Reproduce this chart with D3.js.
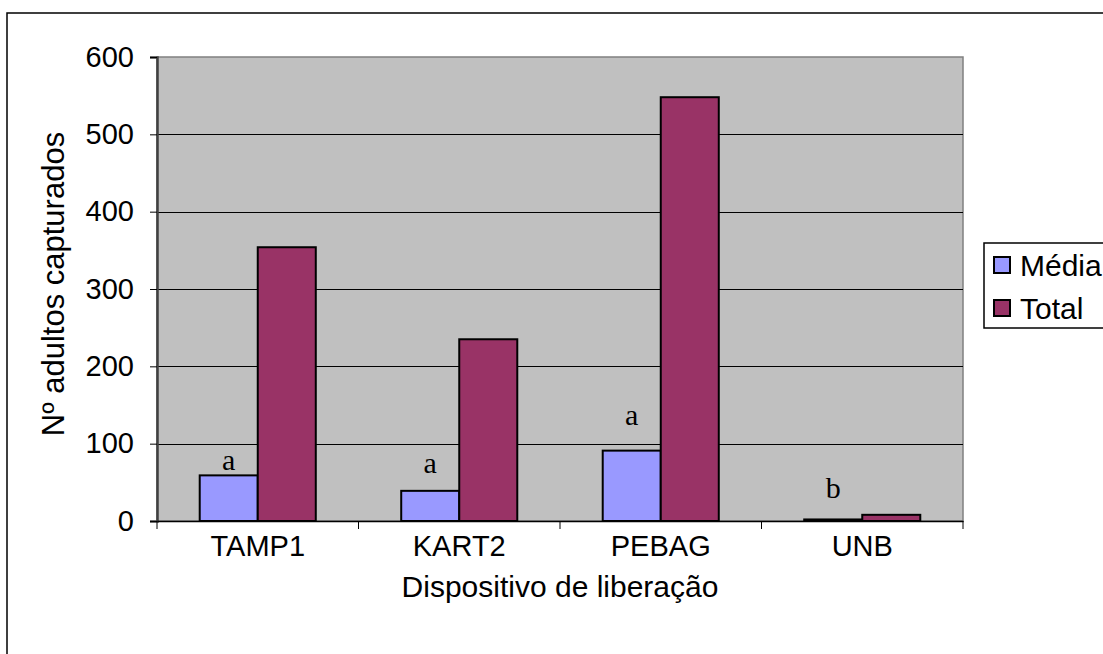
<!DOCTYPE html>
<html><head><meta charset="utf-8">
<script src="https://cdn.jsdelivr.net/npm/d3@7"></script>
<style>
html,body{margin:0;padding:0;background:#fff;overflow:hidden;}
svg{display:block;}
text{font-family:"Liberation Sans",Arial,sans-serif;fill:#000;}
</style></head>
<body>
<svg id="c" width="1103" height="654"></svg>
<script>
const categories = ["TAMP1","KART2","PEBAG","UNB"];
const media = [59, 39, 91, 2];
const total = [354, 235, 548, 8];
const letters = ["a","a","a","b"];
const letterLevels = [66, 62, 124, 30];
const yTicks = [0,100,200,300,400,500,600];
const seriesNames = ["Média","Total"];
const seriesColors = ["#9999FF","#993366"];

const svg = d3.select("#c");
const L=157, T=57, R=963, B=521;

// outer chart border
svg.append("rect").attr("x",7).attr("y",13).attr("width",1110).attr("height",700)
  .attr("fill","#fff").attr("stroke","#000").attr("stroke-width",1.5);

const y = d3.scaleLinear().domain([0,600]).range([B,T]);
const x = d3.scaleBand().domain(categories).range([L,R]).padding(0);
const bw = x.bandwidth()*0.288;
const off = (x.bandwidth()-2*bw)/2;

// plot background
svg.append("rect").attr("x",L).attr("y",T).attr("width",R-L).attr("height",B-T)
  .attr("fill","#C0C0C0").attr("stroke","#808080").attr("stroke-width",1.5);

// gridlines
svg.append("g").selectAll("line").data(yTicks.filter(d=>d>0 && d<600)).join("line")
  .attr("x1",L).attr("x2",R).attr("y1",d=>Math.round(y(d))+0.5).attr("y2",d=>Math.round(y(d))+0.5)
  .attr("stroke","#000").attr("stroke-width",1);

// bars
const vals = [media,total];
vals.forEach((arr,si)=>{
  svg.append("g").selectAll("rect").data(categories).join("rect")
    .attr("x",(d)=>x(d)+off+si*bw)
    .attr("y",(d,i)=>y(arr[i]))
    .attr("width",bw)
    .attr("height",(d,i)=>B-y(arr[i]))
    .attr("fill",seriesColors[si]).attr("stroke","#000").attr("stroke-width",2);
});

// letters
svg.append("g").selectAll("text").data(categories).join("text")
  .attr("x",d=>x(d)+off+bw/2)
  .attr("y",(d,i)=>y(letterLevels[i]))
  .attr("text-anchor","middle")
  .style("font-family","'Liberation Serif','Times New Roman',serif")
  .style("font-size","30px")
  .text((d,i)=>letters[i]);

// y axis
const yAxis = d3.axisLeft(y).tickValues(yTicks).tickSize(7).tickPadding(16);
const gy = svg.append("g").attr("transform",`translate(${L},0)`).call(yAxis);
gy.select(".domain").attr("stroke","#404040").attr("stroke-width",2.5);
gy.selectAll(".tick line").attr("stroke","#000");
gy.selectAll("text").style("font-size","29px").style("font-family","'Liberation Sans',Arial,sans-serif");

// x axis
const xAxis = d3.axisBottom(x).tickSize(0).tickPadding(14);
const gx = svg.append("g").attr("transform",`translate(0,${B})`).call(xAxis);
gx.select(".domain").attr("stroke","#000").attr("stroke-width",1.5);
gx.selectAll("text").style("font-size","29px").style("font-family","'Liberation Sans',Arial,sans-serif");
// category boundary ticks
gx.append("g").selectAll("line").data(categories.concat([null])).join("line")
  .attr("x1",(d,i)=>L+i*x.step()).attr("x2",(d,i)=>L+i*x.step())
  .attr("y1",0).attr("y2",8).attr("stroke","#000").attr("stroke-width",1);

// axis titles
svg.append("text").attr("x",560).attr("y",597).attr("text-anchor","middle")
  .style("font-size","30px").text("Dispositivo de liberação");
svg.append("text").attr("transform",`translate(64,284) rotate(-90)`).attr("text-anchor","middle")
  .style("font-size","31px").text("Nº adultos capturados");

// legend
const lg = svg.append("g");
lg.append("rect").attr("x",984).attr("y",243).attr("width",140).attr("height",85)
  .attr("fill","#fff").attr("stroke","#000").attr("stroke-width",1.5);
seriesNames.forEach((n,i)=>{
  const cy = 265 + i*43;
  lg.append("rect").attr("x",994).attr("y",cy-8).attr("width",16).attr("height",16)
    .attr("fill",seriesColors[i]).attr("stroke","#000").attr("stroke-width",2);
  lg.append("text").attr("x",1020).attr("y",cy).attr("dy","0.35em")
    .style("font-size","30px").text(n);
});
</script>
</body></html>
